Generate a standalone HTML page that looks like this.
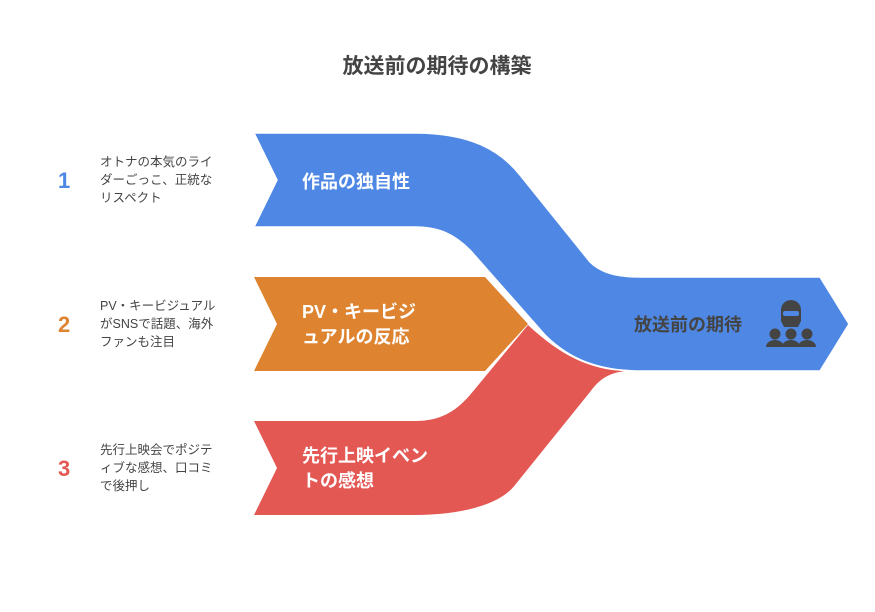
<!DOCTYPE html>
<html><head><meta charset="utf-8"><style>
body{margin:0;background:#fff;}
svg{display:block}
text{font-family:"Liberation Sans","Noto Sans CJK JP",sans-serif;}
</style></head><body>
<svg width="875" height="612" viewBox="0 0 875 612" xmlns="http://www.w3.org/2000/svg">
<rect width="875" height="612" fill="#fff"/>
<text x="437" y="73" text-anchor="middle" font-size="21" font-weight="bold" fill="#444">放送前の期待の構築</text>

<path d="M254,277 L485,277 L528,324 L485,371 L254,371 L277,324 Z" fill="#de8431"/>
<path d="M254,421 L415,421 C440,421 455,412 470,395 L528,325 C560,355 590,370 625,371 C610,373 600,378 590,392 L515,485 C500,505 460,515 415,515 L254,515 L277,468 Z" fill="#e45854"/>
<path d="M254,133 L415,133 C470,133 500,150 520,175 L590,262 C600,272 615,277 640,277 L820,277 L849,324 L820,371 L640,371 C600,371 570,360 545,335 L470,250 C455,235 440,227 415,227 L254,227 L277,180 Z" fill="#4e88e4" stroke="#fff" stroke-width="1.5"/>

<g font-weight="bold" font-size="18" fill="#fff">
<text x="302" y="188">作品の独自性</text>
<text x="302" y="318">PV・キービジ</text>
<text x="302" y="343">ュアルの反応</text>
<text x="302" y="462">先行上映イベン</text>
<text x="302" y="487">トの感想</text>
</g>
<text x="634" y="331" font-weight="bold" font-size="18" fill="#444">放送前の期待</text>
<g fill="#444">
<path d="M781,310 a10,10 0 0 1 20,0 v11 l-3,6 h-14 l-3,-6 Z"/>
<rect x="783" y="311" width="16" height="5" rx="2" fill="#4e88e4"/>
<circle cx="775" cy="334" r="5.5"/><circle cx="791" cy="334" r="5.5"/><circle cx="807" cy="334" r="5.5"/>
<path d="M766,347 a9,7 0 0 1 18,0 Z M782,347 a9,7 0 0 1 18,0 Z M798,347 a9,7 0 0 1 18,0 Z"/>
</g>

<g font-weight="bold" font-size="22">
<text x="58" y="188" fill="#4e88e4">1</text>
<text x="58" y="332" fill="#de8431">2</text>
<text x="58" y="476" fill="#e45854">3</text>
</g>
<g font-size="12.5" fill="#444">
<text x="100" y="166">オトナの本気のライ</text>
<text x="100" y="184">ダーごっこ、正統な</text>
<text x="100" y="202">リスペクト</text>
<text x="100" y="310">PV・キービジュアル</text>
<text x="100" y="328">がSNSで話題、海外</text>
<text x="100" y="346">ファンも注目</text>
<text x="100" y="454">先行上映会でポジテ</text>
<text x="100" y="472">ィブな感想、口コミ</text>
<text x="100" y="490">で後押し</text>
</g>
</svg>
</body></html>
